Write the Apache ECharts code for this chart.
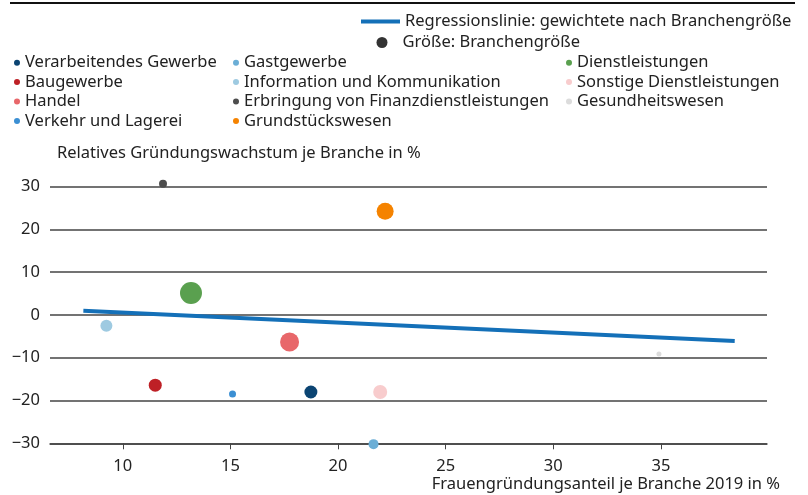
<!DOCTYPE html>
<html>
<head>
<meta charset="utf-8">
<script src="https://cdn.jsdelivr.net/npm/echarts@6/dist/echarts.min.js"></script>
<style>
  html, body { margin: 0; padding: 0; background: #fff; }
  #chart { width: 808px; height: 495px; }
</style>
</head>
<body>
<div id="chart"></div>
<script>
  const branchen = [
    'Verarbeitendes Gewerbe', 'Baugewerbe', 'Handel', 'Verkehr und Lagerei',
    'Gastgewerbe', 'Information und Kommunikation', 'Erbringung von Finanzdienstleistungen', 'Grundstückswesen',
    'Dienstleistungen', 'Sonstige Dienstleistungen', 'Gesundheitswesen'
  ];
  const frauenAnteil = [18.74, 11.51, 17.75, 15.1, 21.65, 9.24, 11.87, 22.19, 13.17, 21.96, 34.91];
  const wachstum = [-18.0, -16.4, -6.3, -18.5, -30.2, -2.5, 30.7, 24.25, 5.15, -18.0, -9.1];
  const branchenGroesse = [13, 13, 19, 7, 10, 12, 8, 17, 22, 14, 5];
  const farben = ['#0b4472', '#be2026', '#e8676a', '#3b8fd3', '#6baed6', '#9ecae1', '#4d4d4d', '#f58300', '#5aa04f', '#f8cccd', '#dcdcdc'];

  const regressionX = [8.17, 38.43];
  const regressionY = [1.0, -6.07];
  const xTicks = [10, 15, 20, 25, 30, 35];

  const regName = 'Regressionslinie: gewichtete nach Branchengröße';
  const sizeName = 'Größe: Branchengröße';
  const fontFamily = '"Noto Sans", sans-serif';
  const fontSize = 16.5;
  const textColor = '#222';

  const chart = echarts.init(document.getElementById('chart'));

  const scatterSeries = branchen.map((name, i) => ({
    name,
    type: 'scatter',
    clip: false,
    data: [[frauenAnteil[i], wachstum[i]]],
    symbolSize: branchenGroesse[i],
    itemStyle: { color: farben[i], opacity: 1 },
    z: 3,
  }));

  function legendCol(names, left) {
    return {
      orient: 'vertical',
      left,
      top: 48,
      data: names,
      icon: 'circle',
      itemWidth: 6,
      itemHeight: 6,
      itemGap: 0,
      selectedMode: false,
      textStyle: { color: textColor, fontSize, fontFamily, lineHeight: 19.4 },
    };
  }

  chart.setOption({
    animation: false,
    textStyle: { fontFamily },
    grid: { left: 50, right: 41, top: 186.7, bottom: 51.7 },
    legend: [
      {
        left: 356, top: 8, data: [regName], icon: 'rect', itemWidth: 39, itemHeight: 4,
        selectedMode: false, textStyle: { color: textColor, fontSize, fontFamily },
      },
      {
        left: 371.5, top: 29, data: [sizeName], icon: 'circle', itemWidth: 11, itemHeight: 11,
        selectedMode: false,
        textStyle: { color: textColor, fontSize, fontFamily, padding: [0, 0, 0, 10] },
      },
      legendCol(branchen.slice(0, 4), 9),
      legendCol(branchen.slice(4, 8), 228),
      legendCol(branchen.slice(8), 561),
    ],
    xAxis: {
      type: 'value',
      min: 6.62,
      max: 39.93,
      splitLine: { show: false },
      axisLine: { show: true, onZero: false, lineStyle: { color: '#444', width: 1.5 } },
      axisTick: { show: true, customValues: xTicks, length: 6, lineStyle: { color: '#444' } },
      axisLabel: { customValues: xTicks, margin: 14, color: textColor, fontSize, fontFamily },
    },
    yAxis: {
      type: 'value',
      min: -30,
      max: 30,
      interval: 10,
      axisLine: { show: false },
      axisTick: { show: false },
      splitLine: { lineStyle: { color: '#444', width: 1.5 } },
      axisLabel: {
        margin: 10, color: textColor, fontSize, fontFamily,
        formatter: (v) => String(v).replace('-', '\u2212'),
      },
    },
    graphic: [
      {
        type: 'line', shape: { x1: 10, y1: 3, x2: 795, y2: 3 },
        style: { stroke: '#111', lineWidth: 2 },
      },
      {
        type: 'text', left: 57, top: 145,
        style: { text: 'Relatives Gründungswachstum je Branche in %', fill: textColor, fontSize, fontFamily },
      },
      {
        type: 'text', right: 28, top: 476,
        style: { text: 'Frauengründungsanteil je Branche 2019 in %', fill: textColor, fontSize, fontFamily },
      },
    ],
    series: [
      {
        name: regName,
        type: 'line',
        data: regressionX.map((x, i) => [x, regressionY[i]]),
        symbol: 'none',
        lineStyle: { color: '#1470b8', width: 4 },
        itemStyle: { color: '#1470b8' },
        z: 4,
      },
      {
        name: sizeName,
        type: 'scatter',
        data: [],
        itemStyle: { color: '#000' },
      },
      ...scatterSeries,
    ],
  });
</script>
</body>
</html>
